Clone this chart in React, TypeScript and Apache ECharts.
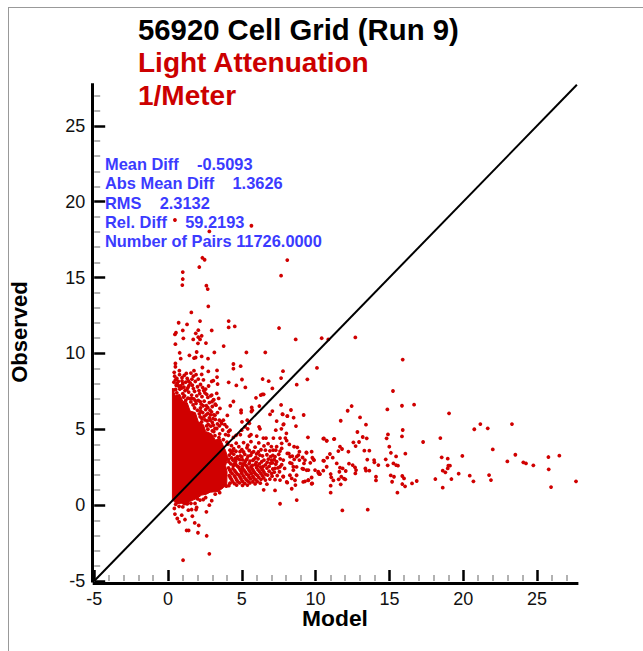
import React, { useEffect, useRef } from "react";
import * as echarts from "echarts";

const axisMin = -5;
const axisMax = 27.7;
const majorValues = [-5, 0, 5, 10, 15, 20, 25];
const minorValues = [-4, -3, -2, -1, 1, 2, 3, 4, 6, 7, 8, 9, 11, 12, 13, 14, 16, 17, 18, 19, 21, 22, 23, 24, 26, 27];
const titleLines = ["56920 Cell Grid (Run 9)", "Light Attenuation", "1/Meter"];
const statLines = [
  "Mean Diff    -0.5093",
  "Abs Mean Diff    1.3626",
  "RMS    2.3132",
  "Rel. Diff    59.2193",
  "Number of Pairs 11726.0000",
];
const oneToOne = [[-5, -5], [27.7, 27.7]];

// Outline of the saturated core of the cloud
const denseCore = [
  [0.3, 0.35], [0.55, 0.1], [0.9, 0.12], [1.15, 0.0], [1.5, 0.25], [1.9, 0.42], [2.28, 0.66], [2.6, 0.72], [2.85, 0.85], [3.41, 0.9], [3.75, 1.15],
  [3.98, 1.35], [4.0, 2.2], [3.9, 2.6], [4.05, 3.1], [3.9, 3.6], [3.75, 3.9], [3.55, 4.35], [3.2, 4.3], [2.95, 4.7], [2.55, 4.85], [2.4, 5.3], [2.05, 5.5], [1.85, 6.1], [1.5, 6.2], [1.3, 6.75], [1.0, 6.85], [0.8, 7.3], [0.5, 7.2], [0.3, 7.7],
];

const upperPoints = [
  [0.47, 18.79], [5.65, 18.41], [2.8, 18.04], [2.33, 16.3], [2.48, 16.17], [8.08, 16.15], [2.12, 15.69], [1.0, 15.36],
  [1.0, 14.9], [0.97, 14.5], [7.66, 15.12], [2.6, 14.46], [2.69, 14.24], [2.73, 13.1], [1.58, 12.7], [0.72, 12.02],
  [1.29, 11.91], [2.17, 12.13], [4.11, 12.13], [4.11, 11.71], [4.52, 11.78], [7.52, 11.67], [2.96, 11.51], [2.05, 11.53],
  [1.0, 11.51], [0.54, 11.36], [0.47, 11.25], [1.88, 11.32], [2.28, 11.16], [2.05, 11.07], [1.04, 10.99], [1.71, 10.92],
  [2.17, 10.92], [8.65, 10.92], [10.41, 11.0], [10.86, 10.92], [12.69, 11.05], [0.5, 10.61], [2.03, 10.66], [2.57, 10.68],
  [3.77, 10.48], [0.79, 10.04], [1.45, 9.87], [1.94, 10.09], [1.76, 9.69], [1.87, 9.73], [2.28, 9.8], [2.71, 9.65],
  [3.14, 10.06], [5.31, 10.06], [6.59, 10.06], [0.86, 9.65], [0.5, 9.34], [0.5, 9.12], [4.43, 9.3], [4.43, 8.99],
  [4.92, 9.16], [2.33, 9.07], [0.77, 8.86], [1.24, 8.68], [1.76, 8.86], [2.28, 8.61], [2.73, 8.81], [3.32, 8.88],
  [3.32, 8.44], [3.07, 8.2], [2.96, 8.15], [4.11, 8.09], [4.63, 7.89], [5.01, 8.28], [5.24, 7.76], [3.36, 7.98],
  [6.41, 8.31], [6.82, 8.17], [7.66, 8.37], [7.79, 8.83], [7.07, 7.69], [5.96, 7.07], [6.28, 7.25], [6.39, 7.3],
  [6.48, 7.3], [4.43, 6.83], [4.22, 6.55], [4.95, 6.26], [4.95, 6.09], [5.67, 6.44], [5.71, 6.26], [5.65, 6.17],
  [6.19, 6.53], [4.02, 5.91], [7.07, 6.2], [6.91, 5.98], [7.75, 6.0], [8.09, 5.87], [7.36, 5.54], [7.81, 5.3],
  [7.68, 5.03], [7.3, 4.94], [6.17, 5.16], [6.23, 5.03], [5.51, 5.39], [5.37, 5.6], [5.01, 5.49], [5.22, 5.16],
  [4.99, 4.94], [5.4, 5.03], [5.62, 4.64], [5.51, 4.55], [4.9, 4.64], [4.61, 4.6], [4.43, 4.46], [6.01, 4.55],
  [6.46, 4.42], [6.64, 4.42], [7.14, 4.42], [7.59, 4.42], [2.96, 7.25], [3.07, 6.92], [3.3, 7.36], [3.43, 7.03],
  [2.85, 6.26], [3.25, 6.59], [3.52, 6.37], [3.18, 5.93], [3.48, 5.6], [3.75, 5.6], [3.64, 5.38], [3.98, 5.16],
  [4.2, 4.94], [4.09, 4.6], [2.85, 5.6], [3.07, 5.27],
];

const lacePoints = [
  [0.45, 8.5], [0.6, 8.35], [0.78, 8.6], [0.95, 8.4], [1.1, 8.55], [1.3, 8.35], [1.55, 8.7], [1.72, 8.5], [1.9, 8.6],
  [2.05, 8.3], [2.4, 8.25], [0.4, 8.1], [0.55, 7.9], [0.7, 8.15], [0.85, 7.85], [1.0, 8.0], [1.2, 8.1], [1.35, 7.75],
  [1.5, 8.05], [1.65, 7.9], [1.85, 8.15], [2.0, 7.8], [2.2, 7.95], [2.35, 7.75], [2.55, 7.65], [2.75, 7.85],
  [0.4, 7.6], [0.6, 7.4], [0.8, 7.65], [1.0, 7.35], [1.15, 7.55], [1.4, 7.45], [1.6, 7.25], [1.8, 7.5], [1.95, 7.2],
  [2.15, 7.35], [2.3, 7.15], [2.5, 7.4], [2.7, 7.1], [2.9, 7.2], [3.1, 6.95], [1.2, 6.9], [1.35, 7.05], [1.55, 6.8],
  [1.75, 7.0], [1.9, 6.7], [2.05, 6.9], [2.25, 6.65], [2.45, 6.85], [2.6, 6.55], [2.8, 6.75], [3.0, 6.5], [3.2, 6.65],
  [1.8, 6.4], [2.0, 6.25], [2.2, 6.4], [2.35, 6.1], [2.55, 6.3], [2.7, 6.05], [2.95, 6.15], [3.1, 5.95], [3.35, 6.1],
  [2.3, 5.7], [2.45, 5.85], [2.65, 5.55], [2.8, 5.75], [3.0, 5.45], [3.2, 5.65], [3.35, 5.35], [3.6, 5.5], [3.85, 5.3],
  [2.7, 5.0], [2.9, 5.2], [3.1, 4.85], [3.3, 5.05], [3.5, 4.7], [3.7, 4.95], [3.9, 4.65], [4.1, 4.85],
  [0.42, 8.75], [0.62, 8.02], [0.52, 7.62], [0.92, 7.72], [1.12, 7.2], [1.28, 7.62], [1.48, 7.02], [1.7, 6.6], [2.12, 6.02],
  [2.28, 5.48], [2.62, 5.22], [2.5, 5.62], [3.0, 4.9], [3.18, 4.58], [3.45, 4.45], [3.75, 4.32], [4.0, 4.15], [0.5, 8.25], [1.62, 8.3],
  [0.72, 7.85], [1.08, 7.78], [1.42, 7.88], [1.72, 7.68], [2.1, 7.55], [2.42, 7.55], [1.05, 7.12], [1.62, 7.02], [1.85, 6.88], [2.18, 6.82],
  [2.38, 6.55], [2.7, 6.42], [2.22, 6.2], [2.58, 5.95], [2.88, 5.95], [2.18, 5.82], [2.72, 5.32], [3.05, 5.7], [3.48, 5.22], [3.18, 5.05],
  [0.95, 8.18], [1.38, 8.18], [2.62, 7.3], [2.98, 6.82],
];

const midPoints = [
  [4.3, 3.92], [4.8, 3.85], [5.4, 3.95], [5.9, 3.82], [6.5, 3.9], [7.0, 3.86],
  [4.2, 3.62], [4.6, 3.55], [5.0, 3.66], [5.5, 3.6], [5.8, 3.52], [6.3, 3.65], [6.9, 3.58], [7.3, 3.62],
  [4.15, 3.3], [4.45, 3.36], [4.9, 3.25], [5.2, 3.34], [5.6, 3.28], [6.0, 3.38], [6.4, 3.24], [6.7, 3.32], [7.1, 3.27], [7.5, 3.35],
  [4.1, 3.02], [4.4, 2.96], [4.7, 3.06], [5.05, 2.98], [5.35, 3.04], [5.75, 2.95], [6.1, 3.05], [6.5, 2.97], [6.8, 3.03], [7.2, 2.99], [7.6, 3.05],
  [4.25, 2.72], [4.6, 2.66], [4.9, 2.75], [5.2, 2.68], [5.5, 2.74], [5.9, 2.67], [6.2, 2.72], [6.6, 2.65], [6.95, 2.76], [7.3, 2.7], [7.7, 2.66],
  [4.1, 2.45], [4.4, 2.4], [4.8, 2.48], [5.05, 2.42], [5.4, 2.46], [5.7, 2.39], [6.0, 2.47], [6.35, 2.41], [6.7, 2.44], [7.1, 2.38], [7.45, 2.46], [7.9, 2.42],
  [4.25, 2.2], [4.6, 2.16], [4.95, 2.23], [5.25, 2.17], [5.55, 2.22], [5.85, 2.15], [6.2, 2.21], [6.5, 2.18], [6.85, 2.24], [7.2, 2.17], [7.55, 2.2],
  [4.15, 1.95], [4.5, 1.92], [4.8, 1.98], [5.1, 1.93], [5.45, 1.97], [5.75, 1.9], [6.05, 1.96], [6.4, 1.94], [6.75, 1.98], [7.05, 1.91], [7.4, 1.95], [7.8, 1.9],
  [4.3, 1.7], [4.65, 1.66], [4.95, 1.72], [5.3, 1.68], [5.6, 1.73], [5.95, 1.67], [6.3, 1.7], [6.6, 1.65], [6.9, 1.72], [7.25, 1.68],
  [4.2, 1.45], [4.5, 1.42], [4.85, 1.47], [5.2, 1.43], [5.55, 1.46], [5.9, 1.4], [6.25, 1.45], [6.7, 1.38],
];

// Second pass over the lacy part to the right of the core
const midFill = [
  [4.45, 3.72], [5.12, 3.5], [5.35, 3.78], [6.12, 3.5], [6.6, 3.62], [4.28, 3.45], [4.7, 3.2], [5.42, 3.22], [5.95, 3.15], [6.22, 3.3],
  [6.95, 3.2], [4.3, 3.12], [4.58, 2.88], [4.85, 3.0], [5.22, 2.85], [5.55, 2.9], [5.98, 2.82], [6.35, 2.86], [6.72, 2.82], [7.08, 2.78],
  [4.12, 2.85], [4.42, 2.6], [4.72, 2.55], [5.03, 2.56], [5.32, 2.58], [5.62, 2.52], [6.05, 2.58], [6.45, 2.55], [6.85, 2.55],
  [4.18, 2.32], [4.52, 2.28], [4.88, 2.34], [5.15, 2.3], [5.48, 2.33], [5.78, 2.28], [6.1, 2.32], [6.42, 2.3], [6.62, 2.02],
  [4.35, 2.08], [4.7, 2.05], [5.0, 2.1], [5.32, 2.05], [5.65, 2.08], [5.95, 2.04], [6.3, 2.07], [4.22, 1.82], [4.58, 1.8], [4.88, 1.85],
  [5.2, 1.8], [5.5, 1.84], [5.82, 1.78], [6.15, 1.82], [6.48, 1.8], [4.38, 1.55], [4.72, 1.55], [5.05, 1.56], [5.42, 1.58], [5.75, 1.54],
  [6.05, 1.55], [4.12, 1.28], [4.65, 1.32], [5.05, 1.3], [5.38, 1.32], [3.95, 1.25],
  [4.05, 4.02], [4.62, 4.08], [5.12, 4.12], [5.62, 4.18], [6.15, 4.1], [6.78, 4.05], [4.38, 3.58], [4.88, 3.52], [5.68, 3.45], [7.12, 3.62],
  [4.55, 3.08], [5.0, 3.18], [5.28, 2.95], [5.82, 3.02], [4.48, 2.72], [5.08, 2.72], [5.72, 2.62], [6.28, 2.5],
];

const rightPoints = [
  [15.9, 9.59], [10.09, 9.04], [9.44, 8.29], [8.72, 7.94], [15.24, 7.52], [7.66, 6.6], [8.33, 6.27], [7.77, 5.98], [8.08, 5.87],
  [8.51, 5.76], [9.19, 5.94], [7.84, 5.34], [8.67, 5.21], [8.02, 4.73], [7.95, 4.42], [9.48, 4.47], [8.04, 4.25], [8.22, 4.0],
  [7.7, 4.07], [7.36, 3.85], [7.7, 3.74], [8.54, 3.85], [8.76, 3.81], [8.9, 3.52], [7.59, 3.56], [8.08, 3.41], [8.27, 3.19],
  [9.39, 3.45], [9.73, 3.52], [9.78, 3.13], [9.85, 3.02], [8.72, 3.19], [8.9, 2.97], [9.21, 2.75], [9.28, 2.97], [7.25, 3.19],
  [7.02, 2.97], [7.36, 2.86], [7.81, 2.97], [8.38, 2.75], [8.49, 2.53], [7.59, 2.53], [7.25, 2.42], [7.02, 2.09], [9.17, 2.38],
  [9.51, 2.31], [9.96, 2.31], [10.18, 2.2], [10.3, 2.05], [10.52, 2.93], [10.79, 3.13], [10.97, 3.37], [11.16, 3.13], [10.52, 4.38],
  [10.75, 4.25], [11.27, 4.36], [11.7, 5.56], [12.17, 6.22], [12.44, 6.53], [13.01, 5.78], [13.41, 5.3], [12.83, 4.82], [13.19, 4.49],
  [13.46, 4.4], [12.56, 4.14], [12.71, 3.89], [12.94, 4.16], [11.54, 3.56], [11.65, 3.85], [11.79, 3.7], [12.22, 3.52], [13.3, 3.59],
  [13.64, 3.59], [13.5, 3.0], [13.96, 2.97], [13.98, 2.82], [14.25, 2.64], [12.26, 2.73], [12.51, 2.64], [12.67, 2.49], [12.74, 2.31],
  [12.69, 2.09], [11.43, 2.75], [10.75, 2.53], [10.52, 2.27], [11.65, 2.47], [11.83, 2.42], [12.04, 2.25], [11.02, 2.05], [11.06, 1.83],
  [11.61, 2.2], [11.56, 1.7], [11.74, 1.87], [11.92, 1.74], [12.01, 1.7], [11.2, 1.63], [11.02, 1.28], [11.7, 1.37], [11.02, 0.82],
  [13.37, 2.42], [13.41, 2.27], [13.64, 2.27], [14.09, 1.87], [14.09, 1.63], [14.75, 3.02], [14.88, 2.62], [15.1, 3.45], [14.99, 3.85],
  [14.81, 4.4], [14.9, 4.66], [14.86, 6.31], [15.85, 6.55], [16.67, 6.62], [15.9, 4.95], [15.85, 4.53], [15.45, 3.21], [16.08, 3.39],
  [15.27, 2.75], [15.45, 2.64], [15.58, 2.6], [15.09, 1.96], [15.31, 1.87], [15.18, 1.54], [15.87, 1.92], [15.99, 1.76], [15.87, 1.39],
  [16.06, 1.24], [16.53, 1.43], [16.85, 1.59], [15.54, 0.82], [17.28, 4.16], [18.45, 4.42], [19.04, 6.05], [18.11, 1.72], [18.54, 3.15],
  [18.95, 3.06], [19.1, 2.6], [18.99, 2.6], [18.95, 2.42], [18.61, 2.27], [18.79, 2.16], [18.61, 1.15], [19.2, 1.72], [19.69, 2.07],
  [19.94, 3.24], [20.44, 1.94], [20.69, 1.57], [20.75, 5.0], [21.16, 5.34], [21.66, 5.06], [22.0, 3.67], [21.75, 1.98], [21.88, 1.65],
  [22.99, 2.88], [23.53, 3.32], [23.3, 5.34], [24.07, 2.82], [24.25, 2.75], [24.75, 2.62], [25.77, 3.17], [26.51, 3.26], [25.79, 2.36],
  [25.95, 1.19], [27.64, 1.57], [11.81, -0.35], [13.53, -0.3], [7.59, 0.09], [8.72, 0.33], [7.25, 0.97], [8.38, 1.08], [8.63, 1.32],
  [9.73, 1.41], [9.28, 1.57], [9.51, 1.65], [8.08, 1.48], [7.59, 1.65], [8.38, 1.76], [7.81, 1.87], [8.19, 3.4], [8.42, 3.23],
  [8.83, 3.29], [8.55, 3.01], [8.26, 2.79], [8.71, 2.52], [8.49, 2.3], [8.26, 1.97], [8.71, 1.97], [8.04, 1.53], [8.6, 1.64],
  [9.16, 1.53], [9.77, 1.43], [9.5, 1.64], [9.73, 1.82], [9.1, 2.41], [9.39, 2.3], [10.25, 2.04], [10.18, 2.13], [9.37, 3.47],
  [9.12, 3.14], [9.89, 2.96], [9.64, 2.79], [10.57, 2.92], [6.48, 1.01], [10.56, 4.39], [10.75, 4.24], [11.24, 4.35],
];

const lowerPoints = [
  [0.43, -0.22], [0.47, -0.59], [0.63, -0.88], [0.75, -1.1], [0.93, -0.66], [1.15, -0.95], [1.38, -0.33], [1.6, -0.29], [1.94, -0.15],
  [1.9, -0.29], [1.65, -0.73], [1.81, -1.17], [2.08, -1.34], [1.26, -1.67], [1.4, -1.67], [2.03, -1.82], [2.62, -2.02], [2.8, -3.21],
  [1.02, -3.63], [2.6, -0.44], [2.8, 0.0], [2.96, 0.29], [2.39, 0.37], [2.17, 0.33], [1.83, 0.11], [0.52, 0.05], [0.75, -0.08],
  [1.0, -0.12], [1.3, 0.08], [1.55, 0.12], [2.0, 0.42], [2.55, 0.5], [3.2, 0.72], [3.5, 0.82],
];

const RED = "#d00000";
const FONT = "'Liberation Sans', Arial, sans-serif";

export default function App() {
  const ref = useRef<HTMLDivElement>(null);
  useEffect(() => {
    document.body.style.margin = "0";
    const chart = echarts.init(ref.current!, null, { renderer: "svg" });
    const titleCentres = [29, 62, 95];
    const titleSizes = [29.3, 28, 28];
    const statCentres = [164, 183, 203, 222, 241];
    const hidden = { axisLabel: { show: false }, splitLine: { show: false } };
    chart.setOption({
      animation: false,
      backgroundColor: "#ffffff",
      grid: { left: 94.2, top: 84.8, width: 482.7, height: 496.2, containLabel: false },
      xAxis: [
        {
          type: "value", min: axisMin, max: axisMax, position: "bottom", interval: 5, splitLine: { show: false },
          axisLine: { show: false, onZero: false },
          axisTick: { show: true, inside: true, length: 11, customValues: majorValues, lineStyle: { color: "#000", width: 2.5 } },
          axisLabel: { show: true, margin: 9, customValues: majorValues, color: "#111", fontSize: 18, fontFamily: FONT },
        },
        {
          type: "value", min: axisMin, max: axisMax, position: "bottom", ...hidden, axisLine: { show: false, onZero: false },
          axisTick: { show: true, inside: true, length: 6, customValues: minorValues, lineStyle: { color: "#999", width: 1.5 } },
        },
        {
          type: "value", min: axisMin, max: axisMax, position: "bottom", offset: 2, ...hidden, axisTick: { show: false },
          axisLine: { show: true, onZero: false, lineStyle: { color: "#000", width: 3, cap: "square" } },
        },
      ],
      yAxis: [
        {
          type: "value", min: axisMin, max: axisMax, position: "left", interval: 5, splitLine: { show: false },
          axisLine: { show: false, onZero: false },
          axisTick: { show: true, inside: true, length: 11, customValues: majorValues, lineStyle: { color: "#000", width: 2.5 } },
          axisLabel: { show: true, margin: 9, customValues: majorValues, color: "#111", fontSize: 18, fontFamily: FONT },
        },
        {
          type: "value", min: axisMin, max: axisMax, position: "left", ...hidden, axisLine: { show: false, onZero: false },
          axisTick: { show: true, inside: true, length: 6, customValues: minorValues, lineStyle: { color: "#999", width: 1.5 } },
        },
        {
          type: "value", min: axisMin, max: axisMax, position: "left", offset: 2, ...hidden, axisTick: { show: false },
          axisLine: { show: true, onZero: false, lineStyle: { color: "#000", width: 3, cap: "square" } },
        },
      ],
      series: [
        {
          type: "custom",
          coordinateSystem: "cartesian2d",
          data: denseCore,
          silent: true,
          clip: true,
          renderItem: (params: any, api: any) => {
            if (params.dataIndex !== 0) return null;
            return {
              type: "polygon",
              shape: { points: denseCore.map((p) => api.coord(p)) },
              style: { fill: RED, stroke: RED, lineWidth: 1 },
            };
          },
        },
        {
          type: "scatter",
          data: [...upperPoints, ...lacePoints, ...midPoints, ...midFill, ...rightPoints, ...lowerPoints],
          symbol: "circle",
          symbolSize: 3.8,
          itemStyle: { color: RED, opacity: 1 },
          silent: true,
        },
        {
          type: "line",
          data: oneToOne,
          showSymbol: false,
          silent: true,
          lineStyle: { color: "#000", width: 2 },
        },
      ],
      graphic: [
        { type: "line", shape: { x1: 8, y1: 7.5, x2: 643, y2: 7.5 }, style: { stroke: "#999", lineWidth: 1 }, silent: true },
        { type: "line", shape: { x1: 8.5, y1: 7, x2: 8.5, y2: 651 }, style: { stroke: "#999", lineWidth: 1 }, silent: true },
        ...titleLines.map((t, i) => ({
          type: "text", x: 138, y: titleCentres[i], silent: true,
          style: { text: t, fill: i === 0 ? "#000" : "#cc0000", font: `bold ${titleSizes[i]}px ${FONT}`, textVerticalAlign: "middle" },
        })),
        ...statLines.map((t, i) => ({
          type: "text", x: 105, y: statCentres[i], silent: true,
          style: { text: t, fill: "#3b3bff", font: `bold 16.4px ${FONT}`, textVerticalAlign: "middle" },
        })),
        {
          type: "text", x: 335, y: 618, silent: true,
          style: { text: "Model", fill: "#000", font: `bold 22.8px ${FONT}`, textAlign: "center", textVerticalAlign: "middle" },
        },
        {
          type: "text", x: 19, y: 332, rotation: Math.PI / 2, silent: true,
          style: { text: "Observed", fill: "#000", font: `bold 22px ${FONT}`, textAlign: "center", textVerticalAlign: "middle" },
        },
      ],
    });
    return () => chart.dispose();
  }, []);
  return <div ref={ref} style={{ position: "fixed", left: 0, top: 0, width: 643, height: 651 }} />;
}
